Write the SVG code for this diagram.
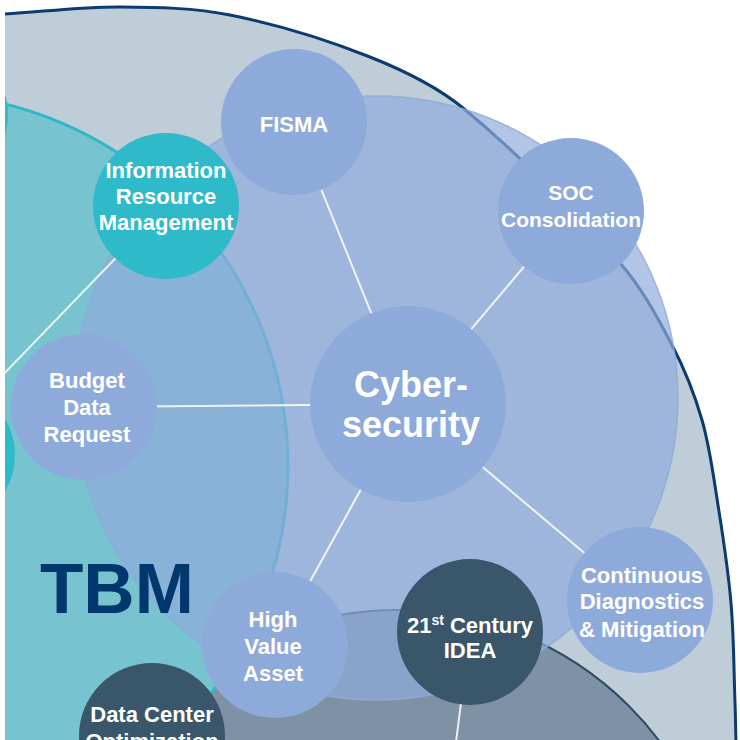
<svg xmlns="http://www.w3.org/2000/svg" width="740" height="740" viewBox="0 0 740 740">
<style>
  .lbl { font-family: "Liberation Sans", Arial, sans-serif; font-weight: bold; fill: #ffffff; text-anchor: middle; }
  .n-blue { fill: #8eaadb; }
  .n-teal { fill: #2fbac9; }
  .n-dark { fill: #3a566b; }
  .conn { stroke: #ffffff; stroke-opacity: 0.85; stroke-width: 2; fill: none; }
</style>
<defs>
  <path id="outerEdge" d="M5,14 C43.3,11.7 81.7,6.8 120,7 C156.7,7.2 194.1,7.8 230,15 C277.5,24.5 325,39 370,57 C402.7,70 435.9,85.7 463,108 C519.2,154.3 571.6,208.2 620,263 C641.3,287.2 657.1,316.4 672,345 C684.4,368.7 694.6,394.3 702,420 C709.9,447.5 713.5,476.6 718,505 C723.2,537.6 728.2,570.2 731,603 C733.9,636.2 733.8,669.6 735,703 C735.5,717 735.7,731 736,745"/>
</defs>
<rect x="0" y="0" width="740" height="740" fill="#ffffff"/>
<g id="background">
  <path id="outer-fill" d="M5,14 C43.3,11.7 81.7,6.8 120,7 C156.7,7.2 194.1,7.8 230,15 C277.5,24.5 325,39 370,57 C402.7,70 435.9,85.7 463,108 C519.2,154.3 571.6,208.2 620,263 C641.3,287.2 657.1,316.4 672,345 C684.4,368.7 694.6,394.3 702,420 C709.9,447.5 713.5,476.6 718,505 C723.2,537.6 728.2,570.2 731,603 C733.9,636.2 733.8,669.6 735,703 C735.5,717 735.7,731 736,745 L5,745 Z" fill="#bfcdd9"/>
  <use href="#outerEdge" fill="none" stroke="#0c3b6d" stroke-width="3"/>
  <circle id="gray-area" cx="397" cy="938" r="328" fill="#7f91a4" stroke="#2e4a66" stroke-width="2"/>
  <circle id="tbm-area" cx="-85" cy="466" r="373" fill="#77c3cf" stroke="#2eb9c9" stroke-width="3"/>
  <circle id="cyber-area" cx="376" cy="398" r="302" fill="#90abdc" fill-opacity="0.69" stroke="#8eaadb" stroke-width="1.5" stroke-opacity="0.8"/>
</g>
<g id="connectors">
  <line class="conn" x1="294" y1="122" x2="408" y2="404"/>
  <line class="conn" x1="571" y1="211" x2="408" y2="404"/>
  <line class="conn" x1="84" y1="407" x2="408" y2="404"/>
  <line class="conn" x1="408" y1="404" x2="640" y2="600"/>
  <line class="conn" x1="408" y1="404" x2="275" y2="645"/>
  <line class="conn" x1="166" y1="206" x2="-60" y2="440"/>
  <line class="conn" x1="470" y1="632" x2="455" y2="750"/>
</g>
<g id="node-left-top"><circle class="n-teal" cx="-65" cy="115" r="73"/></g>
<g id="node-left-mid"><circle class="n-teal" cx="-55" cy="455" r="70"/></g>
<g id="node-fisma">
  <circle class="n-blue" cx="294" cy="122" r="73"/>
  <text class="lbl" x="294" y="132" font-size="22">FISMA</text>
</g>
<g id="node-irm">
  <circle class="n-teal" cx="166" cy="206" r="73"/>
  <text class="lbl" x="166" y="178" font-size="22">Information</text>
  <text class="lbl" x="166" y="204" font-size="22">Resource</text>
  <text class="lbl" x="166" y="230" font-size="22">Management</text>
</g>
<g id="node-soc">
  <circle class="n-blue" cx="571" cy="211" r="73"/>
  <text class="lbl" x="571" y="200" font-size="21">SOC</text>
  <text class="lbl" x="571" y="227" font-size="21">Consolidation</text>
</g>
<g id="node-cyber">
  <circle class="n-blue" cx="408" cy="404" r="98"/>
  <text class="lbl" x="411" y="397" font-size="36">Cyber-</text>
  <text class="lbl" x="411" y="437" font-size="36">security</text>
</g>
<g id="node-budget">
  <circle class="n-blue" cx="84" cy="407" r="73"/>
  <text class="lbl" x="87" y="388" font-size="22">Budget</text>
  <text class="lbl" x="87" y="415" font-size="22">Data</text>
  <text class="lbl" x="87" y="442" font-size="22">Request</text>
</g>
<g id="node-cdm">
  <circle class="n-blue" cx="640" cy="600" r="73"/>
  <text class="lbl" x="642" y="583" font-size="22">Continuous</text>
  <text class="lbl" x="642" y="609" font-size="22">Diagnostics</text>
  <text class="lbl" x="642" y="637" font-size="22">&amp; Mitigation</text>
</g>
<g id="node-hva">
  <circle class="n-blue" cx="275" cy="645" r="73"/>
  <text class="lbl" x="273" y="627" font-size="22">High</text>
  <text class="lbl" x="273" y="654" font-size="22">Value</text>
  <text class="lbl" x="273" y="681" font-size="22">Asset</text>
</g>
<g id="node-idea">
  <circle class="n-dark" cx="470" cy="632" r="73"/>
  <text class="lbl" x="470" y="633" font-size="22">21<tspan font-size="14" dy="-8">st</tspan><tspan dy="8"> Century</tspan></text>
  <text class="lbl" x="470" y="658" font-size="22">IDEA</text>
</g>
<g id="node-dco">
  <circle class="n-dark" cx="152" cy="736" r="73"/>
  <text class="lbl" x="152" y="722" font-size="22">Data Center</text>
  <text class="lbl" x="152" y="749" font-size="22">Optimization</text>
</g>
<text id="tbm-label" x="40" y="613" font-family="Liberation Sans, Arial, sans-serif" font-weight="bold" font-size="71" fill="#00386e">TBM</text>
<rect x="0" y="0" width="5" height="740" fill="#ffffff"/>
</svg>
